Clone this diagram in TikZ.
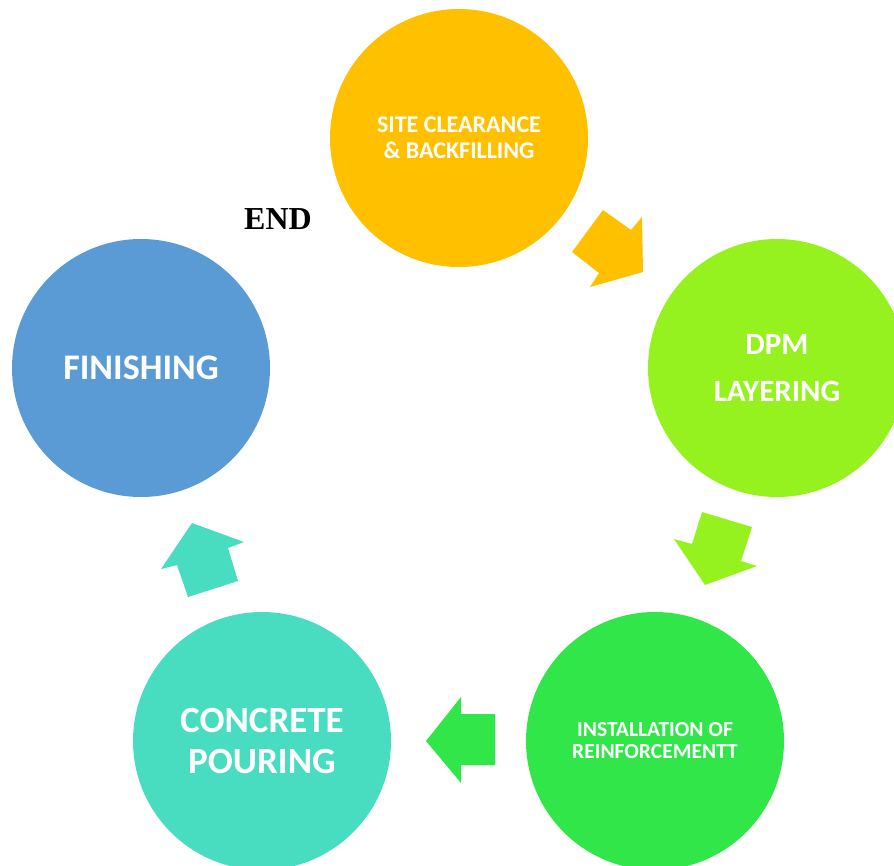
\documentclass[tikz,border=0pt]{standalone}
\usepackage{fontspec}
\setmainfont{Carlito}
\newfontfamily\endfont{Liberation Serif}
\definecolor{cyel}{HTML}{FFC000}
\definecolor{clime}{HTML}{95F21E}
\definecolor{cgreen}{HTML}{30E648}
\definecolor{cteal}{HTML}{48DDC0}
\definecolor{cblue}{HTML}{5B9BD5}
\begin{document}
\begin{tikzpicture}[x=1pt,y=-1pt,
  stage/.style={circle,inner sep=0pt,minimum size=258pt,text=white,align=center,font=\bfseries}]
\useasboundingbox (0,0) rectangle (894,865);
\node[stage,fill=cyel,font=\fontsize{24}{26}\selectfont\bfseries] (s1) at (459,138) {SITE CLEARANCE\\\& BACKFILLING};
\node[stage,fill=clime,font=\fontsize{31}{47}\selectfont\bfseries] (s2) at (777,368) {DPM\\LAYERING};
\node[stage,fill=cgreen,font=\fontsize{21.5}{22}\selectfont\bfseries] (s3) at (655,741) {INSTALLATION OF\\REINFORCEMENTT};
\node[stage,fill=cteal,font=\fontsize{37}{41}\selectfont\bfseries] (s4) at (262,741) {CONCRETE\\POURING};
\node[stage,fill=cblue,font=\fontsize{36}{38}\selectfont\bfseries] (s5) at (141,368) {FINISHING};
\node[font=\endfont\fontsize{32}{34}\selectfont\bfseries] (e) at (278,219) {END};
% block arrows
\fill[cyel] (603,210) -- (631,230) -- (642,217) -- (643,272) -- (590,287) -- (599,273) -- (572,252) -- cycle;
\fill[clime] (702,512) -- (752,527) -- (741,561) -- (757,566) -- (705,585) -- (674,539) -- (692,544) -- cycle;
\fill[cgreen] (461,697) -- (461,714) -- (495,714) -- (495,765) -- (461,765) -- (461,783) -- (426,741) -- cycle;
\fill[cteal] (192,523) -- (244,542) -- (228,548) -- (238,581) -- (188,597) -- (177,565) -- (161,569) -- cycle;
\end{tikzpicture}
\end{document}
